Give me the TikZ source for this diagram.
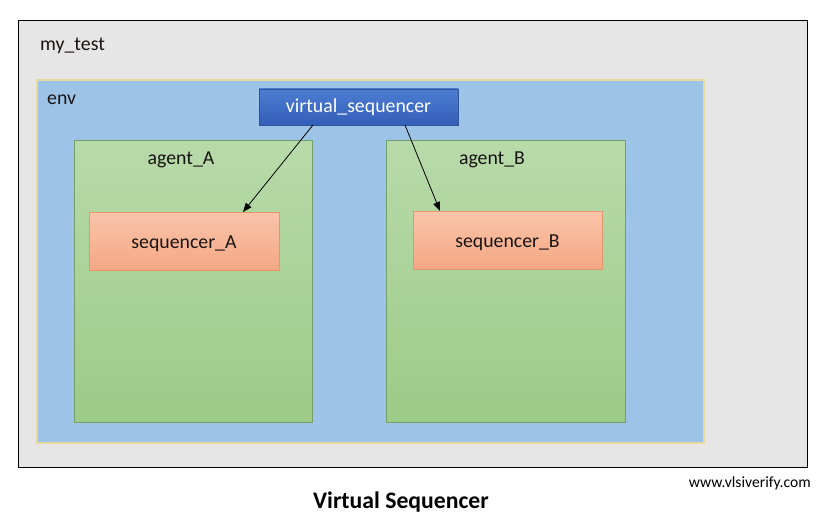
\documentclass[tikz,border=0pt]{standalone}
\usepackage{fontspec}
\setmainfont{Carlito}
\usetikzlibrary{arrows.meta,calc}
\definecolor{bggray}{RGB}{231,230,230}
\definecolor{envblue}{RGB}{157,195,230}
\definecolor{envedge}{RGB}{230,218,160}
\definecolor{agtop}{RGB}{184,218,170}
\definecolor{agbot}{RGB}{157,203,135}
\definecolor{agedge}{RGB}{115,160,105}
\definecolor{sqtop}{RGB}{250,196,170}
\definecolor{sqbot}{RGB}{244,168,132}
\definecolor{sqedge}{RGB}{228,150,105}
\definecolor{vstop}{RGB}{76,125,210}
\definecolor{vsbot}{RGB}{52,94,184}
\definecolor{vsedge}{RGB}{47,85,151}
\definecolor{txt}{RGB}{25,20,20}
\tikzset{
  box/.style={inner sep=0pt, outer sep=0pt, anchor=north west},
  agentbox/.style={box, draw=agedge, line width=0.8pt, top color=agtop, bottom color=agbot},
  seqbox/.style={box, draw=sqedge, line width=0.8pt, top color=sqtop, bottom color=sqbot},
  vsbox/.style={box, draw=vsedge, line width=0.6pt, top color=vstop, bottom color=vsbot},
  lbl/.style={inner sep=0pt, text=txt, font=\fontsize{19.8}{22}\selectfont},
  conn/.style={line width=0.8pt, -{Triangle[length=9pt,width=7pt]}}
}
\begin{document}
\begin{tikzpicture}[x=1pt,y=-1pt]
\useasboundingbox (0,0) rectangle (833,519);
\fill[white] (0,0) rectangle (833,519);
\node[box, draw=black, line width=1pt, fill=bggray, minimum width=789pt, minimum height=446pt] (mytest) at (18,21) {};
\node[lbl, anchor=base west] (mytestlbl) at (40,51) {my\_test};
\node[box, draw=envedge, line width=1.5pt, fill=envblue, minimum width=667pt, minimum height=363pt] (env) at (37,80) {};
\node[lbl, anchor=base west] (envlbl) at (47,104) {env};
\node[agentbox, minimum width=238pt, minimum height=282pt] (agA) at (74,140) {};
\node[agentbox, minimum width=239pt, minimum height=282pt] (agB) at (386,140) {};
\node[lbl] (agAlbl) at (181,160) {agent\_A};
\node[lbl] (agBlbl) at (492,160) {agent\_B};
\node[seqbox, minimum width=190pt, minimum height=58pt] (seqA) at (89,212) {};
\node[seqbox, minimum width=189pt, minimum height=58pt] (seqB) at (413,211) {};
\node[lbl] at ([yshift=-2.5pt]seqA.center) {sequencer\_A};
\node[lbl] at ([yshift=-2.5pt]seqB.center) {sequencer\_B};
\node[vsbox, minimum width=199pt, minimum height=36pt] (vs) at (259,89) {};
\node[lbl, text=white] at ([yshift=-0.5pt]vs.center) {virtual\_sequencer};
\draw[conn] ([xshift=-45.5pt]vs.south) -- ([xshift=59pt]seqA.north);
\draw[conn] ([xshift=46.5pt]vs.south) -- ([xshift=-67.5pt]seqB.north);
\node[inner sep=0pt, anchor=base east, font=\fontsize{15.6}{18}\selectfont] (web) at (811,487) {www.vlsiverify.com};
\node[inner sep=0pt, anchor=base, font=\bfseries\fontsize{23.7}{27}\selectfont] (title) at (401,508) {Virtual Sequencer};
\end{tikzpicture}
\end{document}
